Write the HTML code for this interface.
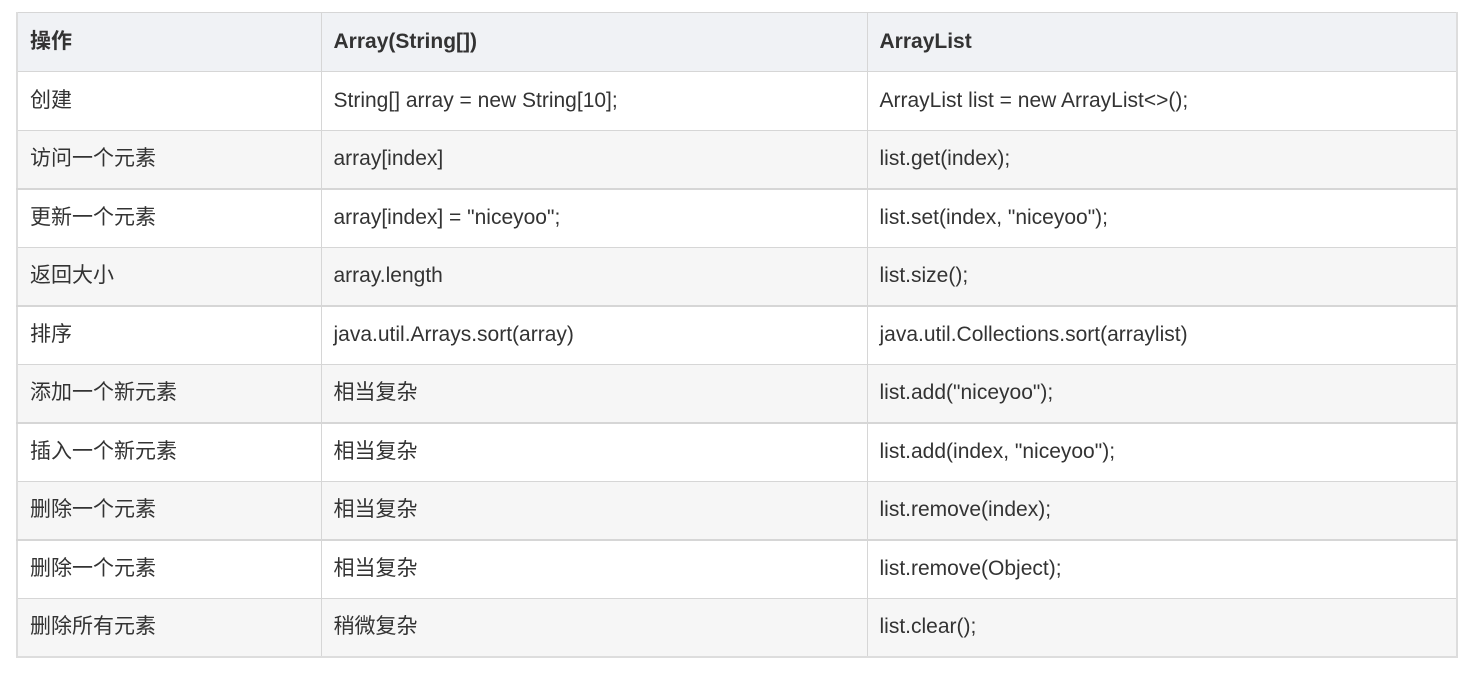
<!DOCTYPE html>
<html><head><meta charset="utf-8"><style>
body{margin:0;background:#fff;width:1471px;height:676px;position:relative;font-family:"Liberation Sans","Noto Sans CJK SC",sans-serif;color:#333;}
table{position:absolute;left:16px;top:12px;width:1442px;border-collapse:collapse;border:2px solid #ddd;border-top:1px solid #ddd;table-layout:fixed;}
td,th{border:1px solid #d6d6d6;height:58.5px;padding:0 0 0 12px;font-size:21px;line-height:24px;text-align:left;vertical-align:middle;box-sizing:border-box;}
th{background:#f0f2f5;font-weight:bold;height:59px;}
tr:nth-child(odd) td{background:#f6f6f6;}
tr.b td{border-top:2px solid #d6d6d6;}
</style></head><body>
<table>
<tr><th style="width:304px">操作</th><th style="width:546px">Array(String[])</th><th>ArrayList</th></tr>
<tr><td>创建</td><td>String[] array = new String[10];</td><td>ArrayList list = new ArrayList&lt;&gt;();</td></tr>
<tr><td>访问一个元素</td><td>array[index]</td><td>list.get(index);</td></tr>
<tr class="b"><td>更新一个元素</td><td>array[index] = "niceyoo";</td><td>list.set(index, "niceyoo");</td></tr>
<tr><td>返回大小</td><td>array.length</td><td>list.size();</td></tr>
<tr class="b"><td>排序</td><td>java.util.Arrays.sort(array)</td><td>java.util.Collections.sort(arraylist)</td></tr>
<tr><td>添加一个新元素</td><td>相当复杂</td><td>list.add("niceyoo");</td></tr>
<tr class="b"><td>插入一个新元素</td><td>相当复杂</td><td>list.add(index, "niceyoo");</td></tr>
<tr><td>删除一个元素</td><td>相当复杂</td><td>list.remove(index);</td></tr>
<tr class="b"><td>删除一个元素</td><td>相当复杂</td><td>list.remove(Object);</td></tr>
<tr><td>删除所有元素</td><td>稍微复杂</td><td>list.clear();</td></tr>
</table>
</body></html>
